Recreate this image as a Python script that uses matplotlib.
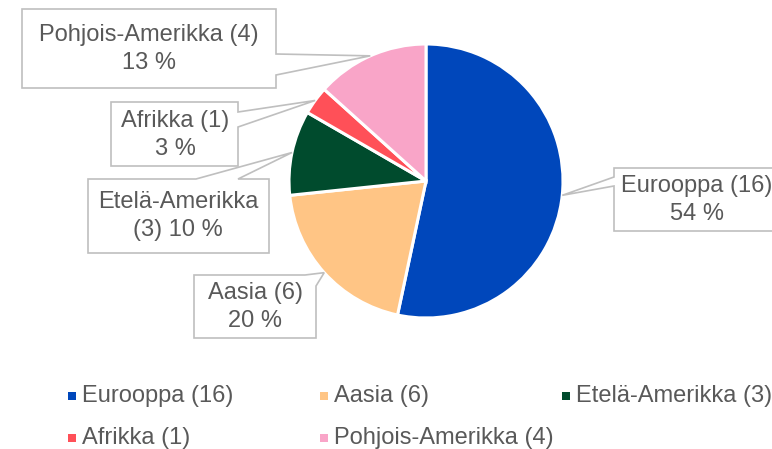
import numpy as np
import matplotlib.pyplot as plt
from matplotlib.patches import Polygon, Rectangle

plt.rcParams['font.family'] = ['Liberation Sans', 'DejaVu Sans']

regions = ['Eurooppa', 'Aasia', 'Etelä-Amerikka', 'Afrikka', 'Pohjois-Amerikka']
counts = [16, 6, 3, 1, 4]
percent_labels = ['54 %', '20 %', '10 %', '3 %', '13 %']
colors = ['#0047BB', '#FFC585', '#004B2D', '#FF5058', '#F9A5C8']

text_col = '#595959'
box_col = '#BFBFBF'
fs = 17

fig = plt.figure(figsize=(7.72, 4.49), dpi=100)
ax = fig.add_axes([0, 0, 1, 1])

# pixel-like coordinates, y downwards
wedges, _ = ax.pie(counts, colors=colors, startangle=-90, counterclock=True,
                   center=(426, 181), radius=137,
                   wedgeprops=dict(edgecolor='white', linewidth=2.2))
ax.set_xlim(0, 772)
ax.set_ylim(449, 0)
ax.set_aspect('auto')
ax.axis('off')

# callout boxes: (x0, y0, x1, y1) and the two base points of the pointer
boxes = [
    ((614, 168, 790, 231), [(614, 177), (614, 186)]),
    ((194, 275, 316, 338), [(305, 275), (316, 286)]),
    ((88, 179, 269, 253), [(196, 179), (238, 179)]),
    ((111, 102, 238, 166), [(238, 112), (238, 127)]),
    ((22, 9, 276, 88), [(276, 54), (276, 75)]),
]
names_wrapped = ['Eurooppa (16)', 'Aasia (6)', 'Etelä-Amerikka\n(3)',
                 'Afrikka (1)', 'Pohjois-Amerikka (4)']
text_pos = [(697, 200), (255, 307), (178, 216), (175, 135), (149, 49)]

for w, (box, base), nm, pct, tp in zip(wedges, boxes, names_wrapped,
                                       percent_labels, text_pos):
    mid = np.deg2rad((w.theta1 + w.theta2) / 2)
    cx, cy = w.center
    tip = (cx + w.r * np.cos(mid), cy + w.r * np.sin(mid))
    x0, y0, x1, y1 = box
    b1, b2 = base
    # insert pointer into the outline
    if b1[1] == y0 and b2[1] == y0:
        pts = [(x0, y0), b1, tip, b2, (x1, y0), (x1, y1), (x0, y1)]
    elif b1[1] == y0 and b2[0] == x1:
        pts = [(x0, y0), b1, tip, b2, (x1, y1), (x0, y1)]
    elif b1[0] == x1:
        pts = [(x0, y0), (x1, y0), b1, tip, b2, (x1, y1), (x0, y1)]
    else:
        pts = [(x0, y0), (x1, y0), (x1, y1), (x0, y1), b2, tip, b1]
    ax.add_patch(Polygon(pts, closed=True, facecolor='white',
                         edgecolor=box_col, linewidth=1.2, zorder=3))
    sep = ' ' if '\n' in nm else '\n'
    ax.text(tp[0], tp[1], nm + sep + pct, ha='center', va='center', fontsize=fs,
            color=text_col, linespacing=1.3, zorder=4)

# legend, laid out like the original (3 per row)
leg_x = [72, 324, 566, 72, 324]
leg_y = [396, 396, 396, 438, 438]
for name, n, c, lx, ly in zip(regions, counts, colors, leg_x, leg_y):
    ax.add_patch(Rectangle((lx - 4, ly - 4), 8, 8, facecolor=c, edgecolor='none'))
    ax.text(lx + 10, ly, f'{name} ({n})', ha='left', va='center',
            fontsize=fs, color=text_col)

fig.savefig('out.png', dpi=100)
